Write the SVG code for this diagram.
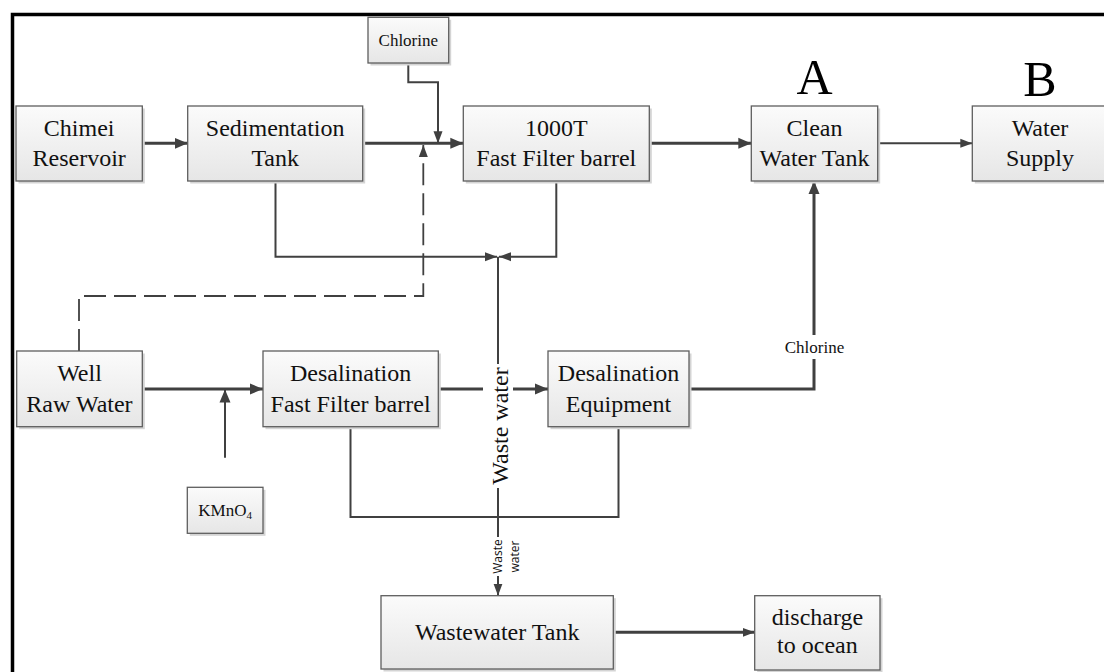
<svg xmlns="http://www.w3.org/2000/svg" width="1104" height="672" viewBox="0 0 1104 672">
<defs>
<linearGradient id="bf" x1="0" y1="0" x2="0" y2="1">
<stop offset="0" stop-color="#fbfbfb"/>
<stop offset="1" stop-color="#e6e6e6"/>
</linearGradient>
<marker id="ah" markerUnits="userSpaceOnUse" markerWidth="13" markerHeight="12" refX="13" refY="6" orient="auto">
<path d="M0,0.5 L13,6 L0,11.5 z" fill="#404040"/>
</marker>
<marker id="ahs" markerUnits="userSpaceOnUse" markerWidth="12" markerHeight="10" refX="12" refY="5" orient="auto">
<path d="M0,0.5 L12,5 L0,9.5 z" fill="#404040"/>
</marker>
<style>
.box rect.s{fill:#d4d4d4;}
.box rect.b{fill:url(#bf);stroke:#5e5e5e;stroke-width:1.3;}
.t{font-family:"Liberation Serif","Times New Roman",serif;font-size:24px;fill:#111;text-anchor:middle;}
.ts{font-family:"Liberation Serif","Times New Roman",serif;font-size:17px;fill:#111;text-anchor:middle;}
.tb{font-family:"Liberation Serif","Times New Roman",serif;font-size:50px;fill:#000;text-anchor:middle;}
.tw{font-family:"Open Sans","Noto Sans",sans-serif;font-size:12px;fill:#111;text-anchor:middle;}
.c{fill:none;stroke:#404040;}
.k{stroke-width:3;}
.m{stroke-width:2;}
.d{stroke-width:1.8;stroke-dasharray:22 8;}
</style>
</defs>
<rect x="0" y="0" width="1104" height="672" fill="#ffffff"/>
<rect x="12.5" y="14.5" width="1200" height="800" fill="none" stroke="#000" stroke-width="3.5"/>

<g id="connectors">
<path class="c k" d="M142.3,143.3 H187.7" marker-end="url(#ah)"/>
<path class="c k" d="M362.7,143.3 H463.3" marker-end="url(#ah)"/>
<path class="c m" d="M408.3,63 V82.3 H438 V143.3" marker-end="url(#ahs)"/>
<path class="c d" d="M79,351 V296 H423.3 V145" marker-end="url(#ahs)"/>
<path class="c k" d="M649.3,143.3 H751.3" marker-end="url(#ah)"/>
<path class="c m" d="M877.7,143.3 H972.3" marker-end="url(#ahs)"/>
<path class="c m" d="M275.5,181 V256.7 H497" marker-end="url(#ahs)"/>
<path class="c m" d="M556.3,181 V256.7 H499" marker-end="url(#ahs)"/>
<path class="c m" d="M498,256.7 V595.7" marker-end="url(#ahs)"/>
<path class="c k" d="M142.3,389 H263" marker-end="url(#ah)"/>
<path class="c m" d="M225,457.7 V389.5" marker-end="url(#ah)"/>
<path class="c k" d="M438.3,389 H548" marker-end="url(#ah)"/>
<path class="c m" d="M350.5,426.7 V517 H618.5 V426.7"/>
<path class="c k" d="M689,389 H814 V181" marker-end="url(#ah)"/>
<path class="c k" d="M613.3,632.3 H754.7" marker-end="url(#ahs)"/>
<rect x="483" y="364" width="30" height="124" fill="#fff"/>
<text class="t" transform="translate(497,426) rotate(-90)" y="11">Waste water</text>
<rect x="780" y="335" width="68" height="24" fill="#fff"/>
<text class="ts" x="814.5" y="353">Chlorine</text>
<rect x="491" y="537" width="14" height="39" fill="#fff"/>
<text class="tw" transform="translate(497.7,556.5) rotate(-90)" y="4.5">Waste</text>
<text class="tw" transform="translate(514,556.5) rotate(-90)" y="4.5">water</text>
</g>

<g id="chimei" class="box"><rect class="s" x="18.5" y="108.5" width="126.3" height="75"/><rect class="b" x="16" y="106" width="126.3" height="75"/><text class="t" x="79.2" y="135.5">Chimei</text><text class="t" x="79.2" y="165.5">Reservoir</text></g>
<g id="sedimentation" class="box"><rect class="s" x="190.2" y="108.5" width="175" height="75"/><rect class="b" x="187.7" y="106" width="175" height="75"/><text class="t" x="275.2" y="135.5">Sedimentation</text><text class="t" x="275.2" y="165.5">Tank</text></g>
<g id="chlorine" class="box"><rect class="s" x="370.5" y="19.8" width="80.7" height="45.7"/><rect class="b" x="368" y="17.3" width="80.7" height="45.7"/><text class="ts" x="408.3" y="46">Chlorine</text></g>
<g id="filter1000" class="box"><rect class="s" x="465.8" y="108.5" width="186" height="75"/><rect class="b" x="463.3" y="106" width="186" height="75"/><text class="t" x="556.3" y="135.5">1000T</text><text class="t" x="556.3" y="165.5">Fast Filter barrel</text></g>
<g id="clean" class="box"><text class="tb" x="814.5" y="94">A</text><rect class="s" x="753.8" y="108.5" width="126.4" height="75"/><rect class="b" x="751.3" y="106" width="126.4" height="75"/><text class="t" x="814.5" y="135.5">Clean</text><text class="t" x="814.5" y="165.5">Water Tank</text></g>
<g id="supply" class="box"><text class="tb" x="1040" y="96">B</text><rect class="s" x="974.8" y="108.5" width="140" height="75"/><rect class="b" x="972.3" y="106" width="140" height="75"/><text class="t" x="1040" y="135.5">Water</text><text class="t" x="1040" y="165.5">Supply</text></g>
<g id="well" class="box"><rect class="s" x="19.2" y="353.5" width="125.6" height="75.7"/><rect class="b" x="16.7" y="351" width="125.6" height="75.7"/><text class="t" x="79.5" y="381">Well</text><text class="t" x="79.5" y="412">Raw Water</text></g>
<g id="desalfilter" class="box"><rect class="s" x="265.5" y="353.5" width="175.3" height="75.7"/><rect class="b" x="263" y="351" width="175.3" height="75.7"/><text class="t" x="350.6" y="381">Desalination</text><text class="t" x="350.6" y="412">Fast Filter barrel</text></g>
<g id="equipment" class="box"><rect class="s" x="550.5" y="353.5" width="141" height="75.7"/><rect class="b" x="548" y="351" width="141" height="75.7"/><text class="t" x="618.5" y="381">Desalination</text><text class="t" x="618.5" y="412">Equipment</text></g>
<g id="kmno4" class="box"><rect class="s" x="189.8" y="489.8" width="75.7" height="46"/><rect class="b" x="187.3" y="487.3" width="75.7" height="46"/><text class="ts" x="225.1" y="516">KMnO<tspan font-size="11" dy="3">4</tspan></text></g>
<g id="wwtank" class="box"><rect class="s" x="383.5" y="598.2" width="232.3" height="73.3"/><rect class="b" x="381" y="595.7" width="232.3" height="73.3"/><text class="t" x="497.2" y="640">Wastewater Tank</text></g>
<g id="discharge" class="box"><rect class="s" x="757.2" y="598.2" width="125.3" height="74.3"/><rect class="b" x="754.7" y="595.7" width="125.3" height="74.3"/><text class="t" x="817.4" y="625">discharge</text><text class="t" x="817.4" y="653">to ocean</text></g>
</svg>
